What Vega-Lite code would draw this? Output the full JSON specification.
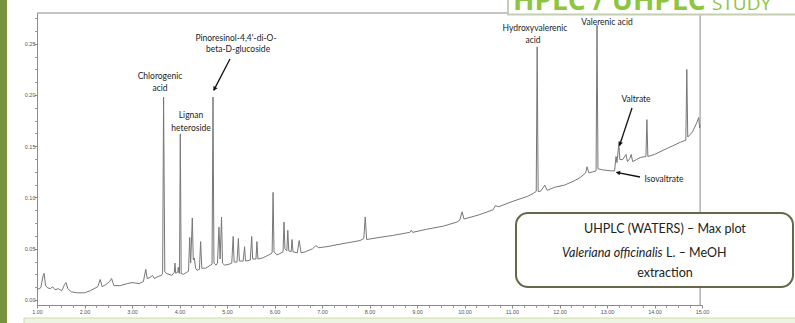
{
  "$schema": "https://vega.github.io/schema/vega-lite/v6.json",
  "width": 665,
  "height": 292,
  "autosize": {"type": "none"},
  "padding": {"left": 37, "top": 13, "right": 93, "bottom": 18},
  "background": "white",
  "config": {"view": {"stroke": null}, "font": "Lato"},
  "datasets": {
    "one": [{}],
    "chrom": [
      {"t":1.00,"a":0.010},{"t":1.08,"a":0.012},{"t":1.13,"a":0.024},{"t":1.15,"a":0.026},{"t":1.18,"a":0.014},
      {"t":1.22,"a":0.012},{"t":1.28,"a":0.011},{"t":1.33,"a":0.013},{"t":1.38,"a":0.010},{"t":1.45,"a":0.011},
      {"t":1.52,"a":0.009},{"t":1.58,"a":0.015},{"t":1.61,"a":0.017},{"t":1.65,"a":0.011},{"t":1.72,"a":0.008},
      {"t":1.85,"a":0.007},{"t":2.00,"a":0.007},{"t":2.12,"a":0.009},{"t":2.20,"a":0.011},{"t":2.28,"a":0.013},
      {"t":2.33,"a":0.020},{"t":2.37,"a":0.013},{"t":2.45,"a":0.015},{"t":2.53,"a":0.018},{"t":2.57,"a":0.021},
      {"t":2.62,"a":0.014},{"t":2.75,"a":0.014},{"t":2.90,"a":0.016},{"t":3.00,"a":0.017},{"t":3.15,"a":0.016},
      {"t":3.24,"a":0.018},{"t":3.29,"a":0.030},{"t":3.32,"a":0.021},{"t":3.38,"a":0.022},{"t":3.43,"a":0.024},
      {"t":3.47,"a":0.021},{"t":3.55,"a":0.023},{"t":3.62,"a":0.024},{"t":3.645,"a":0.026},{"t":3.665,"a":0.198},
      {"t":3.69,"a":0.028},{"t":3.72,"a":0.026},{"t":3.84,"a":0.024},{"t":3.89,"a":0.027},{"t":3.905,"a":0.036},
      {"t":3.92,"a":0.026},{"t":3.96,"a":0.027},{"t":3.975,"a":0.032},{"t":3.99,"a":0.026},{"t":4.00,"a":0.026},
      {"t":4.017,"a":0.162},{"t":4.035,"a":0.026},{"t":4.08,"a":0.025},{"t":4.15,"a":0.027},{"t":4.19,"a":0.028},
      {"t":4.215,"a":0.061},{"t":4.235,"a":0.036},{"t":4.27,"a":0.080},{"t":4.29,"a":0.039},{"t":4.31,"a":0.041},
      {"t":4.34,"a":0.031},{"t":4.37,"a":0.029},{"t":4.42,"a":0.030},{"t":4.445,"a":0.057},{"t":4.47,"a":0.031},
      {"t":4.55,"a":0.031},{"t":4.62,"a":0.033},{"t":4.685,"a":0.035},{"t":4.705,"a":0.198},{"t":4.725,"a":0.036},
      {"t":4.77,"a":0.034},{"t":4.80,"a":0.036},{"t":4.83,"a":0.071},{"t":4.855,"a":0.040},{"t":4.885,"a":0.081},
      {"t":4.905,"a":0.036},{"t":4.95,"a":0.034},{"t":5.05,"a":0.035},{"t":5.10,"a":0.036},{"t":5.13,"a":0.062},
      {"t":5.15,"a":0.037},{"t":5.21,"a":0.037},{"t":5.24,"a":0.060},{"t":5.26,"a":0.038},{"t":5.34,"a":0.038},
      {"t":5.37,"a":0.052},{"t":5.39,"a":0.038},{"t":5.49,"a":0.039},{"t":5.52,"a":0.062},{"t":5.54,"a":0.040},
      {"t":5.61,"a":0.040},{"t":5.63,"a":0.057},{"t":5.65,"a":0.040},{"t":5.75,"a":0.041},{"t":5.88,"a":0.044},
      {"t":5.95,"a":0.046},{"t":5.97,"a":0.105},{"t":5.99,"a":0.047},{"t":6.05,"a":0.044},{"t":6.10,"a":0.045},
      {"t":6.18,"a":0.047},{"t":6.20,"a":0.076},{"t":6.22,"a":0.050},{"t":6.26,"a":0.048},{"t":6.28,"a":0.068},
      {"t":6.30,"a":0.048},{"t":6.35,"a":0.047},{"t":6.37,"a":0.059},{"t":6.39,"a":0.047},{"t":6.48,"a":0.046},
      {"t":6.52,"a":0.058},{"t":6.56,"a":0.046},{"t":6.65,"a":0.047},{"t":6.80,"a":0.050},{"t":6.87,"a":0.053},
      {"t":6.93,"a":0.051},{"t":7.10,"a":0.052},{"t":7.44,"a":0.055},{"t":7.80,"a":0.058},{"t":7.88,"a":0.060},
      {"t":7.91,"a":0.081},{"t":7.94,"a":0.059},{"t":8.20,"a":0.061},{"t":8.49,"a":0.063},{"t":8.85,"a":0.066},
      {"t":8.88,"a":0.068},{"t":8.91,"a":0.066},{"t":9.20,"a":0.069},{"t":9.55,"a":0.072},{"t":9.84,"a":0.076},
      {"t":9.90,"a":0.078},{"t":9.95,"a":0.086},{"t":9.99,"a":0.079},{"t":10.30,"a":0.083},{"t":10.60,"a":0.088},
      {"t":10.65,"a":0.092},{"t":10.72,"a":0.091},{"t":11.00,"a":0.096},{"t":11.32,"a":0.101},{"t":11.45,"a":0.104},
      {"t":11.51,"a":0.106},{"t":11.53,"a":0.247},{"t":11.55,"a":0.106},{"t":11.60,"a":0.106},{"t":11.69,"a":0.112},
      {"t":11.74,"a":0.107},{"t":11.90,"a":0.110},{"t":12.10,"a":0.112},{"t":12.30,"a":0.116},{"t":12.45,"a":0.120},
      {"t":12.55,"a":0.124},{"t":12.58,"a":0.130},{"t":12.62,"a":0.124},{"t":12.70,"a":0.125},{"t":12.77,"a":0.126},
      {"t":12.79,"a":0.268},{"t":12.81,"a":0.128},{"t":12.90,"a":0.127},{"t":13.08,"a":0.126},{"t":13.16,"a":0.126},
      {"t":13.19,"a":0.140},{"t":13.21,"a":0.134},{"t":13.25,"a":0.153},{"t":13.27,"a":0.137},{"t":13.33,"a":0.137},
      {"t":13.40,"a":0.142},{"t":13.43,"a":0.135},{"t":13.48,"a":0.138},{"t":13.51,"a":0.142},{"t":13.54,"a":0.135},
      {"t":13.62,"a":0.137},{"t":13.70,"a":0.139},{"t":13.82,"a":0.140},{"t":13.84,"a":0.176},{"t":13.86,"a":0.140},
      {"t":14.00,"a":0.142},{"t":14.27,"a":0.148},{"t":14.55,"a":0.154},{"t":14.66,"a":0.156},{"t":14.68,"a":0.225},
      {"t":14.70,"a":0.159},{"t":14.80,"a":0.164},{"t":14.89,"a":0.173},{"t":14.93,"a":0.178},{"t":14.95,"a":0.168},
      {"t":14.96,"a":0.170}
    ],
    "labels": [
      {"label":"Chlorogenic","t":3.589,"a":0.2185},
      {"label":"acid","t":3.589,"a":0.2068},
      {"label":"Lignan","t":4.242,"a":0.1805},
      {"label":"heteroside","t":4.242,"a":0.1678},
      {"label":"Pinoresinol-4,4'-di-O-","t":5.189,"a":0.2556},
      {"label":"beta-D-glucoside","t":5.232,"a":0.2449},
      {"label":"Hydroxyvalerenic","t":11.484,"a":0.2654},
      {"label":"acid","t":11.442,"a":0.2537},
      {"label":"Valerenic acid","t":13.0,"a":0.2712},
      {"label":"Valtrate","t":13.611,"a":0.1961},
      {"label":"Isovaltrate","t":14.2,"a":0.118}
    ],
    "arrows": [
      {"name":"pino","t1":5.063,"a1":0.2351,"t2":4.72,"a2":0.2045},
      {"name":"valtrate","t1":13.526,"a1":0.1873,"t2":13.262,"a2":0.1505},
      {"name":"iso","t1":13.695,"a1":0.12,"t2":13.2,"a2":0.1246}
    ],
    "heads": [
      {"name":"pino","t":4.737,"a":0.2059},
      {"name":"valtrate","t":13.274,"a":0.1522},
      {"name":"iso","t":13.232,"a":0.1243}
    ]
  },
  "layer": [
    {
      "data": {"name": "one"},
      "mark": {"type": "rect", "fill": "#76923c"},
      "encoding": {
        "x": {"datum": 0.116, "type": "quantitative", "scale": {"domain": [1, 15], "nice": false, "zero": false}, "axis": null},
        "x2": {"datum": 0.368},
        "y": {"datum": 0.2976, "type": "quantitative", "scale": {"domain": [-0.00488, 0.28], "nice": false, "zero": false}, "axis": null},
        "y2": {"datum": -0.0293}
      }
    },
    {
      "data": {"name": "one"},
      "mark": {"type": "rect", "fill": "#eef4e2", "stroke": "#cddcae", "strokeWidth": 1},
      "encoding": {
        "x": {"datum": 0.726, "type": "quantitative", "axis": null},
        "x2": {"datum": 17.06},
        "y": {"datum": -0.0176, "type": "quantitative", "axis": null},
        "y2": {"datum": -0.0293}
      }
    },
    {
      "data": {"name": "one"},
      "mark": {"type": "rule", "color": "#8a8a8a", "strokeWidth": 1},
      "encoding": {
        "x": {"datum": 14.96, "type": "quantitative", "axis": null},
        "y": {"datum": -0.00488, "type": "quantitative", "axis": null},
        "y2": {"datum": 0.28}
      }
    },
    {
      "data": {"name": "one"},
      "mark": {"type": "rule", "color": "#8a8a8a", "strokeWidth": 1},
      "encoding": {
        "x": {"datum": 1, "type": "quantitative", "axis": null},
        "x2": {"datum": 14.96},
        "y": {"datum": 0.28, "type": "quantitative", "axis": null}
      }
    },
    {
      "data": {"name": "chrom"},
      "mark": {"type": "line", "color": "#777777", "strokeWidth": 1, "clip": true},
      "encoding": {
        "x": {
          "field": "t", "type": "quantitative",
          "scale": {"domain": [1, 15], "nice": false, "zero": false},
          "axis": {
            "orient": "bottom", "values": [1,2,3,4,5,6,7,8,9,10,11,12,13,14,15], "format": ".2f",
            "labelFont": "Liberation Sans", "labelFontSize": 5.5, "labelColor": "#555555",
            "labelPadding": 1, "tickSize": 3, "tickColor": "#8a8a8a", "domainColor": "#8a8a8a",
            "grid": false, "title": null, "labelFlush": false
          }
        },
        "y": {
          "field": "a", "type": "quantitative",
          "scale": {"domain": [-0.00488, 0.28], "nice": false, "zero": false},
          "axis": {
            "orient": "left", "values": [0, 0.05, 0.1, 0.15, 0.2, 0.25], "format": ".2f",
            "labelFont": "Liberation Sans", "labelFontSize": 5.5, "labelColor": "#555555",
            "labelPadding": -1, "tickSize": 3, "tickColor": "#8a8a8a", "domainColor": "#8a8a8a",
            "grid": false, "title": null
          }
        }
      }
    },
    {
      "data": {"name": "chrom"},
      "mark": {"type": "point", "opacity": 0},
      "encoding": {
        "x": {
          "field": "t", "type": "quantitative",
          "axis": {
            "orient": "bottom",
            "values": [1.25,1.5,1.75,2.25,2.5,2.75,3.25,3.5,3.75,4.25,4.5,4.75,5.25,5.5,5.75,6.25,6.5,6.75,7.25,7.5,7.75,8.25,8.5,8.75,9.25,9.5,9.75,10.25,10.5,10.75,11.25,11.5,11.75,12.25,12.5,12.75,13.25,13.5,13.75,14.25,14.5,14.75],
            "labels": false, "domain": false, "tickSize": 2.5, "tickColor": "#9a9a9a", "grid": false, "title": null
          }
        },
        "y": {
          "field": "a", "type": "quantitative",
          "axis": {
            "orient": "left",
            "values": [0.0125,0.025,0.0375,0.0625,0.075,0.0875,0.1125,0.125,0.1375,0.1625,0.175,0.1875,0.2125,0.225,0.2375,0.2625,0.275],
            "labels": false, "domain": false, "tickSize": 2.5, "tickColor": "#9a9a9a", "grid": false, "title": null
          }
        }
      }
    },
    {
      "data": {"name": "one"},
      "mark": {"type": "rect", "fill": "#ffffff", "stroke": "#c3cfb0", "strokeWidth": 2},
      "encoding": {
        "x": {"datum": 10.916, "type": "quantitative", "axis": null},
        "x2": {"datum": 17.06},
        "y": {"datum": 0.3122, "type": "quantitative", "axis": null},
        "y2": {"datum": 0.2785}
      }
    },
    {
      "data": {"name": "one"},
      "mark": {"type": "text", "text": "HPLC / UHPLC", "font": "Open Sans", "fontSize": 28, "fontWeight": "bold", "color": "#8cc63f", "align": "left", "baseline": "alphabetic"},
      "encoding": {
        "x": {"datum": 11.021, "type": "quantitative", "axis": null},
        "y": {"datum": 0.2832, "type": "quantitative", "axis": null}
      }
    },
    {
      "data": {"name": "one"},
      "mark": {"type": "text", "text": "STUDY", "font": "Open Sans", "fontSize": 19, "color": "#8cc63f", "align": "left", "baseline": "alphabetic"},
      "encoding": {
        "x": {"datum": 15.21, "type": "quantitative", "axis": null},
        "y": {"datum": 0.2832, "type": "quantitative", "axis": null}
      }
    },
    {
      "data": {"name": "one"},
      "mark": {"type": "rect", "fill": "#ffffff", "stroke": "#66664a", "strokeWidth": 2, "cornerRadius": 12},
      "encoding": {
        "x": {"datum": 11.084, "type": "quantitative", "axis": null},
        "x2": {"datum": 16.916},
        "y": {"datum": 0.0849, "type": "quantitative", "axis": null},
        "y2": {"datum": 0.0127}
      }
    },
    {
      "data": {"name": "one"},
      "mark": {"type": "text", "text": "UHPLC (WATERS) – Max plot", "font": "Lato", "fontSize": 12.5, "color": "#222222", "align": "center", "baseline": "middle"},
      "encoding": {
        "x": {"datum": 14.22, "type": "quantitative", "axis": null},
        "y": {"datum": 0.0693, "type": "quantitative", "axis": null}
      }
    },
    {
      "data": {"name": "one"},
      "mark": {"type": "text", "text": "Valeriana officinalis", "font": "Lato", "fontSize": 12.5, "fontStyle": "italic", "color": "#222222", "align": "right", "baseline": "middle"},
      "encoding": {
        "x": {"datum": 14.17, "type": "quantitative", "axis": null},
        "y": {"datum": 0.0459, "type": "quantitative", "axis": null}
      }
    },
    {
      "data": {"name": "one"},
      "mark": {"type": "text", "text": "L. – MeOH", "font": "Lato", "fontSize": 12.5, "color": "#222222", "align": "left", "baseline": "middle", "dx": 3.5},
      "encoding": {
        "x": {"datum": 14.17, "type": "quantitative", "axis": null},
        "y": {"datum": 0.0459, "type": "quantitative", "axis": null}
      }
    },
    {
      "data": {"name": "one"},
      "mark": {"type": "text", "text": "extraction", "font": "Lato", "fontSize": 12.5, "color": "#222222", "align": "center", "baseline": "middle"},
      "encoding": {
        "x": {"datum": 14.22, "type": "quantitative", "axis": null},
        "y": {"datum": 0.0263, "type": "quantitative", "axis": null}
      }
    },
    {
      "data": {"name": "labels"},
      "mark": {"type": "text", "font": "Lato", "fontSize": 8.5, "color": "#222222", "align": "center", "baseline": "middle"},
      "encoding": {
        "x": {"field": "t", "type": "quantitative", "axis": null},
        "y": {"field": "a", "type": "quantitative", "axis": null},
        "text": {"field": "label"}
      }
    },
    {
      "data": {"name": "arrows"},
      "mark": {"type": "rule", "color": "#111111", "strokeWidth": 1.3},
      "encoding": {
        "x": {"field": "t1", "type": "quantitative", "axis": null},
        "y": {"field": "a1", "type": "quantitative", "axis": null},
        "x2": {"field": "t2"},
        "y2": {"field": "a2"}
      }
    },
    {
      "data": {"name": "heads"},
      "transform": [{"filter": "datum.name === 'pino'"}],
      "mark": {"type": "point", "shape": "triangle-up", "filled": true, "color": "#111111", "opacity": 1, "size": 22, "angle": 207},
      "encoding": {
        "x": {"field": "t", "type": "quantitative", "axis": null},
        "y": {"field": "a", "type": "quantitative", "axis": null}
      }
    },
    {
      "data": {"name": "heads"},
      "transform": [{"filter": "datum.name === 'valtrate'"}],
      "mark": {"type": "point", "shape": "triangle-up", "filled": true, "color": "#111111", "opacity": 1, "size": 22, "angle": 198},
      "encoding": {
        "x": {"field": "t", "type": "quantitative", "axis": null},
        "y": {"field": "a", "type": "quantitative", "axis": null}
      }
    },
    {
      "data": {"name": "heads"},
      "transform": [{"filter": "datum.name === 'iso'"}],
      "mark": {"type": "point", "shape": "triangle-up", "filled": true, "color": "#111111", "opacity": 1, "size": 22, "angle": 281},
      "encoding": {
        "x": {"field": "t", "type": "quantitative", "axis": null},
        "y": {"field": "a", "type": "quantitative", "axis": null}
      }
    }
  ],
  "resolve": {"axis": {"x": "independent", "y": "independent"}}
}
